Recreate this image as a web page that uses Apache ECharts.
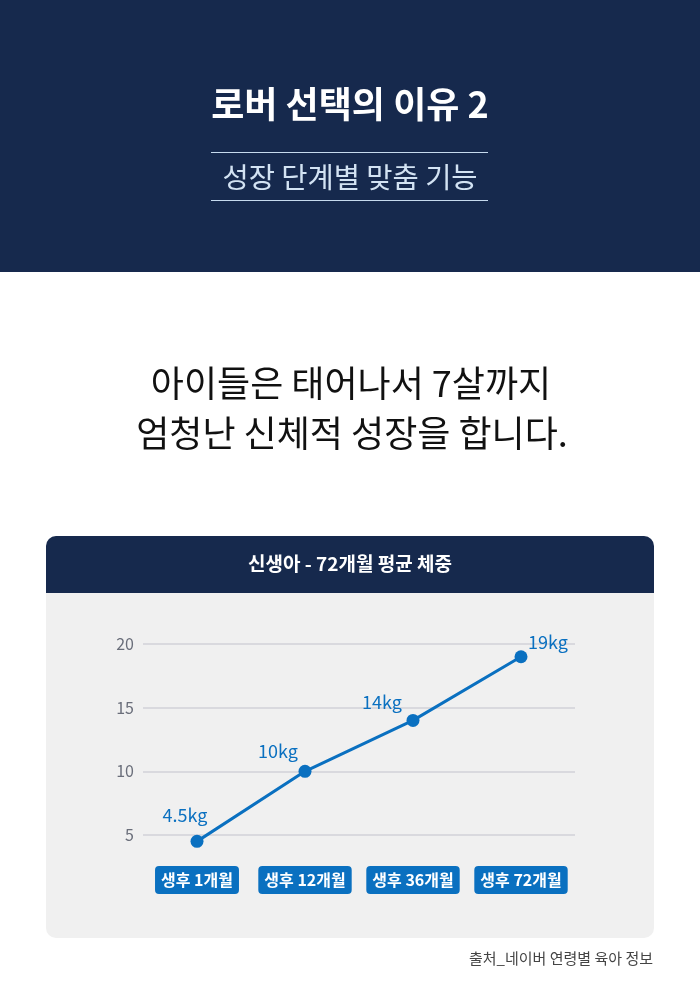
<!DOCTYPE html>
<html><head><meta charset="utf-8">
<script src="https://cdn.jsdelivr.net/npm/echarts@6/dist/echarts.min.js"></script>
<style>html,body{margin:0;padding:0;background:#fff}#c{width:700px;height:995px}</style>
</head><body><div id="c"></div>
<script>
const categories = ['생후 1개월', '생후 12개월', '생후 36개월', '생후 72개월'];
const weights = [4.5, 10, 14, 19];
const valueLabels = ['4.5kg', '10kg', '14kg', '19kg'];
const yTicks = [5, 10, 15, 20];

const labelOffsets = [[-12, -6], [-27, 0], [-31, 2], [27, 6]];
const FONT = '"Noto Sans CJK KR", "Noto Sans", sans-serif';
const NAVY = '#16294d';
const BLUE = '#0a70c0';

const chart = echarts.init(document.getElementById('c'), null, {renderer: 'canvas'});
chart.setOption({
  animation: false,
  backgroundColor: '#ffffff',
  graphic: [
    {type: 'rect', shape: {x: 0, y: 0, width: 700, height: 272}, style: {fill: NAVY}, z: -10},
    {type: 'text', x: 350, y: 104, style: {text: '로버 선택의 이유 2', fill: '#ffffff', font: 'bold 36px ' + FONT, align: 'center', verticalAlign: 'middle'}},
    {type: 'line', shape: {x1: 211, y1: 152.5, x2: 488, y2: 152.5}, style: {stroke: '#c6daee', lineWidth: 1}},
    {type: 'text', x: 350, y: 177, style: {text: '성장 단계별 맞춤 기능', fill: '#d3e3f3', font: '28.5px ' + FONT, align: 'center', verticalAlign: 'middle'}},
    {type: 'line', shape: {x1: 211, y1: 200.5, x2: 488, y2: 200.5}, style: {stroke: '#c6daee', lineWidth: 1}},
    {type: 'text', x: 351, y: 383, style: {text: '아이들은 태어나서 7살까지', fill: '#111111', font: '36px ' + FONT, align: 'center', verticalAlign: 'middle'}},
    {type: 'text', x: 352, y: 433, style: {text: '엄청난 신체적 성장을 합니다.', fill: '#111111', font: '36px ' + FONT, align: 'center', verticalAlign: 'middle'}},
    {type: 'rect', shape: {x: 46, y: 536, width: 608, height: 402, r: 10}, style: {fill: '#f0f0f0'}, z: -10},
    {type: 'rect', shape: {x: 46, y: 536, width: 608, height: 57, r: [10, 10, 0, 0]}, style: {fill: NAVY}, z: -9},
    {type: 'text', x: 350, y: 564, style: {text: '신생아 - 72개월 평균 체중', fill: '#ffffff', font: 'bold 19px ' + FONT, align: 'center', verticalAlign: 'middle'}},
    {type: 'text', x: 653, y: 958, style: {text: '출처_네이버 연령별 육아 정보', fill: '#444444', font: '15px ' + FONT, align: 'right', verticalAlign: 'middle'}}
  ],
  grid: {left: 143, right: 125, top: 644, bottom: 995 - 835, containLabel: false},
  xAxis: {
    type: 'category', data: categories, boundaryGap: true,
    axisLine: {show: false}, axisTick: {show: false},
    axisLabel: {
      margin: 31, color: '#ffffff', fontSize: 16, fontWeight: 'bold', fontFamily: FONT,
      backgroundColor: BLUE, padding: [6, 6, 6, 6], borderRadius: 4
    }
  },
  yAxis: {
    type: 'value', min: yTicks[0], max: yTicks[yTicks.length - 1], interval: 5,
    axisLine: {show: false}, axisTick: {show: false},
    axisLabel: {margin: 9, color: '#6a6e7a', fontSize: 16, fontFamily: FONT},
    splitLine: {lineStyle: {color: '#d9d9de', width: 2}}
  },
  series: [{
    type: 'line', clip: false,
    data: weights.map((v, i) => ({
      value: v,
      label: {show: true, position: 'top', offset: labelOffsets[i], formatter: valueLabels[i]}
    })),
    symbol: 'circle', symbolSize: 13,
    lineStyle: {color: BLUE, width: 3},
    itemStyle: {color: BLUE},
    label: {color: BLUE, fontSize: 18, fontFamily: FONT}
  }]
});
</script></body></html>
